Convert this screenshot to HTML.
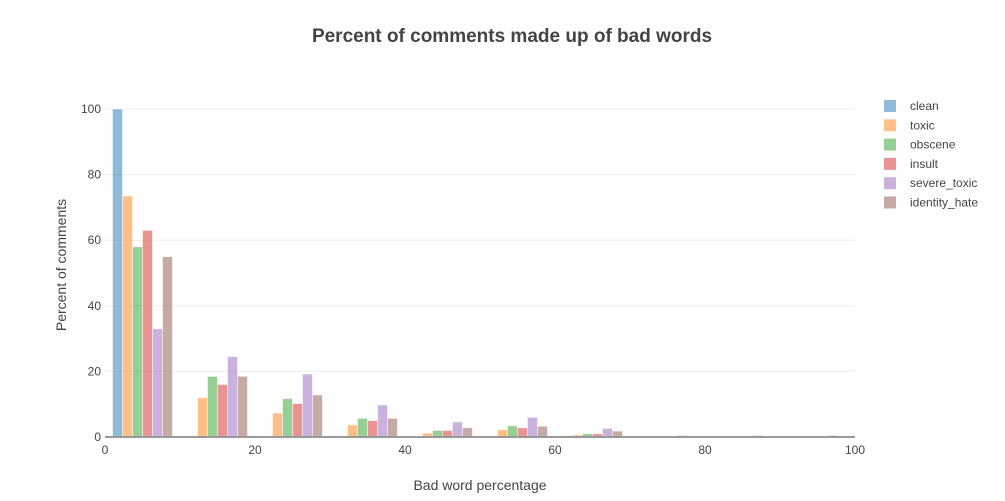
<!DOCTYPE html>
<html><head><meta charset="utf-8">
<style>
body{margin:0;background:#fff;font-family:"Liberation Sans",sans-serif;}
svg text{font-family:"Liberation Sans",sans-serif;fill:#444;}
</style></head>
<body>
<svg id="chart" width="1005" height="496" viewBox="0 0 1005 496" xmlns="http://www.w3.org/2000/svg">
<text x="512" y="42" text-anchor="middle" font-size="19" font-weight="bold">Percent of comments made up of bad words</text>
<g id="grid"></g>
<g id="bars"></g>
<g id="axes"></g>
<text x="480" y="490" text-anchor="middle" font-size="14">Bad word percentage</text>
<text transform="translate(66,265) rotate(-90)" text-anchor="middle" font-size="14">Percent of comments</text>
<g id="legend"></g>
</svg>
<script>
const seriesNames = ["clean","toxic","obscene","insult","severe_toxic","identity_hate"];
const seriesColors = ["#1f77b4","#ff7f0e","#2ca02c","#d62728","#9467bd","#8c564b"];
const binStarts = [0,10,20,30,40,50,60,70,80,90];
const clean =        [100,0.3,0.2,0.1,0.1,0.2,0.1,0.05,0.05,0.05];
const toxic =        [73.5,12,7.3,3.7,1.2,2.2,0.6,0.2,0.2,0.2];
const obscene =      [58,18.5,11.7,5.7,2,3.4,1,0.2,0.2,0.2];
const insult =       [63,16,10.2,5,2,2.8,1,0.2,0.2,0.2];
const severe_toxic = [33,24.5,19.2,9.8,4.6,6,2.6,0.5,0.5,0.5];
const identity_hate =[55,18.5,12.8,5.7,2.8,3.3,1.8,0.2,0.2,0.2];
const xTicks = [0,20,40,60,80,100];
const yTicks = [0,20,40,60,80,100];

const allSeries=[clean,toxic,obscene,insult,severe_toxic,identity_hate];
const X0=105,X1=855,Y0=437,Y1=109;
const xs=v=>X0+(X1-X0)*v/100;
const ys=v=>Y0-(Y0-Y1)*v/100;
const NS="http://www.w3.org/2000/svg";
function mk(tag,attrs,parent){const e=document.createElementNS(NS,tag);for(const k in attrs)e.setAttribute(k,attrs[k]);parent.appendChild(e);return e;}
const grid=document.getElementById('grid'),bars=document.getElementById('bars'),axes=document.getElementById('axes'),legend=document.getElementById('legend');
yTicks.forEach(t=>{
  if(t>0){const l=mk('line',{x1:X0,x2:X1,y1:ys(t),y2:ys(t),stroke:'#eee','stroke-width':1},grid);
  
  }
  const tx=mk('text',{x:X0-4,y:ys(t)+4,'text-anchor':'end','font-size':12},axes);tx.textContent=t;
  
  
});
xTicks.forEach(t=>{
  const tx=mk('text',{x:xs(t),y:Y0+17,'text-anchor':'middle','font-size':12},axes);tx.textContent=t;
  
  
});
const binW=10,gap=0.2,n=allSeries.length;
binStarts.forEach((b,i)=>{
  const gx0=xs(b+binW*gap/2),gx1=xs(b+binW*(1-gap/2));
  const bw=(gx1-gx0)/n;
  allSeries.forEach((s,j)=>{
    const v=s[i];
    const r=mk('rect',{x:gx0+j*bw,y:ys(v),width:bw,height:Y0-ys(v),fill:seriesColors[j],'fill-opacity':0.5,stroke:'#fff','stroke-opacity':0.5,'stroke-width':1},bars);
    
    
  });
});
const zl=mk('line',{x1:X0,x2:X1,y1:Y0,y2:Y0,stroke:'#999','stroke-width':2},axes);


seriesNames.forEach((nm,j)=>{
  const y=106+j*19.3;
  const g=mk('g',{},legend);
  
  
  mk('rect',{x:884,y:y-6,width:12,height:12,fill:seriesColors[j],'fill-opacity':0.5},g);
  const t=mk('text',{x:910,y:y+4,'font-size':12},g);t.textContent=nm;
});
</script>
</body></html>
